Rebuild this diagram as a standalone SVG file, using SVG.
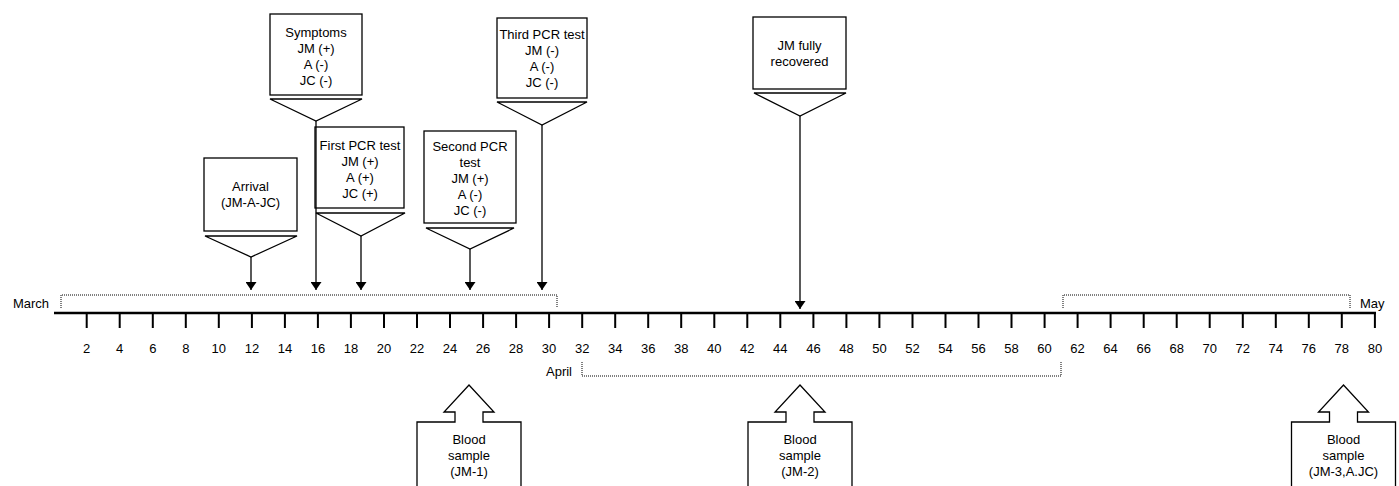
<svg xmlns="http://www.w3.org/2000/svg" width="1399" height="486" viewBox="0 0 1399 486">
<style>
text{font-family:"Liberation Sans",Arial,Helvetica,sans-serif;font-size:13px;fill:#000;text-anchor:middle}
.box{fill:#fff;stroke:#000;stroke-width:1.3}
.stem{fill:none;stroke:#000;stroke-width:1.3}
.dot{fill:none;stroke:#000;stroke-width:1;stroke-dasharray:1 1}
.lbl{text-anchor:end}
.lbs{text-anchor:start}
</style>
<defs>
<marker id="ah" markerUnits="userSpaceOnUse" viewBox="0 0 8 11" markerWidth="8" markerHeight="11" refX="8" refY="5.5" orient="auto">
<path d="M0,0 L8,5.5 L0,11 z" fill="#000"/>
</marker>
</defs>
<rect width="1399" height="486" fill="#fff"/>

<g id="timeline">
<line x1="54" y1="313" x2="1376" y2="313" stroke="#000" stroke-width="2.5"/>
<path stroke="#000" stroke-width="2" fill="none" d="M86.7,313V328M119.7,313V328M152.8,313V328M185.8,313V328M218.8,313V328M251.9,313V328M284.9,313V328M317.9,313V328M350.9,313V328M384,313V328M417,313V328M450,313V328M483.1,313V328M516.1,313V328M549.1,313V328M582.2,313V328M615.2,313V328M648.2,313V328M681.2,313V328M714.3,313V328M747.3,313V328M780.3,313V328M813.4,313V328M846.4,313V328M879.4,313V328M912.5,313V328M945.5,313V328M978.5,313V328M1011.5,313V328M1044.6,313V328M1077.6,313V328M1110.6,313V328M1143.7,313V328M1176.7,313V328M1209.7,313V328M1242.8,313V328M1275.8,313V328M1308.8,313V328M1341.8,313V328M1374.9,313V328"/>
<g id="ticklabels">
<text x="86.7" y="353">2</text><text x="119.7" y="353">4</text><text x="152.8" y="353">6</text><text x="185.8" y="353">8</text><text x="218.8" y="353">10</text><text x="251.9" y="353">12</text><text x="284.9" y="353">14</text><text x="317.9" y="353">16</text><text x="350.9" y="353">18</text><text x="384" y="353">20</text><text x="417" y="353">22</text><text x="450" y="353">24</text><text x="483.1" y="353">26</text><text x="516.1" y="353">28</text><text x="549.1" y="353">30</text><text x="582.2" y="353">32</text><text x="615.2" y="353">34</text><text x="648.2" y="353">36</text><text x="681.2" y="353">38</text><text x="714.3" y="353">40</text><text x="747.3" y="353">42</text><text x="780.3" y="353">44</text><text x="813.4" y="353">46</text><text x="846.4" y="353">48</text><text x="879.4" y="353">50</text><text x="912.5" y="353">52</text><text x="945.5" y="353">54</text><text x="978.5" y="353">56</text><text x="1011.5" y="353">58</text><text x="1044.6" y="353">60</text><text x="1077.6" y="353">62</text><text x="1110.6" y="353">64</text><text x="1143.7" y="353">66</text><text x="1176.7" y="353">68</text><text x="1209.7" y="353">70</text><text x="1242.8" y="353">72</text><text x="1275.8" y="353">74</text><text x="1308.8" y="353">76</text><text x="1341.8" y="353">78</text><text x="1374.9" y="353">80</text>
</g>
</g>

<g id="month-march">
<path class="dot" d="M61,308V295H557V308"/>
<text class="lbl" x="49" y="308">March</text>
</g>
<g id="month-april">
<path class="dot" d="M582,362V376H1061V362"/>
<text class="lbl" x="572" y="376">April</text>
</g>
<g id="month-may">
<path class="dot" d="M1063,308V295H1350V308"/>
<text class="lbs" x="1360" y="308">May</text>
</g>

<g id="arrival">
<rect class="box" x="204" y="158" width="93" height="73"/>
<polygon class="box" points="205,236 297,236 251,257"/>
<text x="250.5" y="191">Arrival</text>
<text x="250.5" y="207">(JM-A-JC)</text>
</g>

<g id="symptoms">
<rect class="box" x="270" y="14" width="92" height="81"/>
<polygon class="box" points="270,99 362,99 316,121"/>
<text x="316" y="36.5">Symptoms</text>
<text x="316" y="52.5">JM (+)</text>
<text x="316" y="68.5">A (-)</text>
<text x="316" y="84.5">JC (-)</text>
</g>

<g id="first-pcr">
<rect class="box" x="315" y="127" width="89" height="81"/>
<polygon class="box" points="316,213 405,213 361,236"/>
<text x="360" y="150">First PCR test</text>
<text x="360" y="166">JM (+)</text>
<text x="360" y="182">A (+)</text>
<text x="360" y="198">JC (+)</text>
</g>

<g id="second-pcr">
<rect class="box" x="424" y="131" width="92" height="92"/>
<polygon class="box" points="426,228 514,228 470,249"/>
<text x="470" y="151">Second PCR</text>
<text x="470" y="167">test</text>
<text x="470" y="183">JM (+)</text>
<text x="470" y="199">A (-)</text>
<text x="470" y="215">JC (-)</text>
</g>

<g id="third-pcr">
<rect class="box" x="497" y="18" width="90" height="80"/>
<polygon class="box" points="497,102 587,102 542,125"/>
<text x="542" y="38.5">Third PCR test</text>
<text x="542" y="54.5">JM (-)</text>
<text x="542" y="70.5">A (-)</text>
<text x="542" y="86.5">JC (-)</text>
</g>

<g id="recovered">
<rect class="box" x="753" y="17" width="93" height="72"/>
<polygon class="box" points="754,93 846,93 800,116"/>
<text x="799.5" y="49.5">JM fully</text>
<text x="799.5" y="65.5">recovered</text>
</g>

<g id="blood-1">
<path class="box" d="M417,500V422H455V412H444L469,385L494,412H483V422H521V500"/>
<text x="469" y="444">Blood</text>
<text x="469" y="460">sample</text>
<text x="469" y="476">(JM-1)</text>
</g>

<g id="blood-2">
<path class="box" d="M748,500V422H786V412H775L800,385L825,412H814V422H852V500"/>
<text x="800" y="444">Blood</text>
<text x="800" y="460">sample</text>
<text x="800" y="476">(JM-2)</text>
</g>

<g id="blood-3">
<path class="box" d="M1291.5,500V422H1329.5V412H1318.5L1343.5,385L1368.5,412H1357.5V422H1395.5V500"/>
<text x="1343.5" y="444">Blood</text>
<text x="1343.5" y="460">sample</text>
<text x="1343.5" y="476">(JM-3,A.JC)</text>
</g>

<g id="connectors">
<line class="stem" x1="251" y1="257" x2="251" y2="290" marker-end="url(#ah)"/>
<line class="stem" x1="316" y1="121" x2="316" y2="290" marker-end="url(#ah)"/>
<line class="stem" x1="361" y1="236" x2="361" y2="290" marker-end="url(#ah)"/>
<line class="stem" x1="470" y1="249" x2="470" y2="290" marker-end="url(#ah)"/>
<line class="stem" x1="542" y1="125" x2="542" y2="290" marker-end="url(#ah)"/>
<line class="stem" x1="800" y1="116" x2="800" y2="309" marker-end="url(#ah)"/>
</g>
</svg>
